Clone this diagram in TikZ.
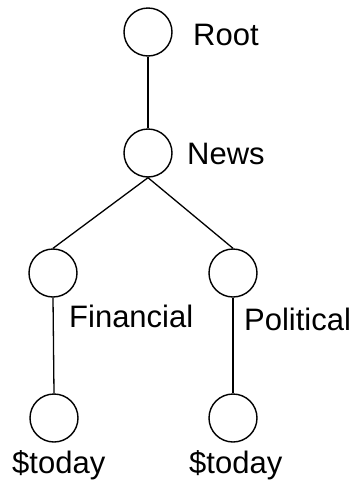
\documentclass[tikz,border=0pt]{standalone}
\usepackage{fontspec}
\setmainfont{Liberation Sans}
\begin{document}
\begin{tikzpicture}[x=1pt,y=-1pt,
  vertex/.style={draw,circle,line width=1.4pt,minimum size=48pt,inner sep=0pt},
  lbl/.style={anchor=base west,inner sep=0pt,font=\fontsize{31}{31}\selectfont},
  edge/.style={line width=1.3pt}]
\useasboundingbox (0,0) rectangle (352,485);
\node[vertex] (root) at (148,32) {};
\node[vertex] (news) at (148,153) {};
\node[vertex] (fin) at (53,273) {};
\node[vertex] (pol) at (233,273) {};
\node[vertex] (fint) at (54,418) {};
\node[vertex] (polt) at (233,418) {};
\node[lbl] (lroot) at (193,45) {Root};
\node[lbl] (lnews) at (187,164) {News};
\node[lbl] (lfin) at (69,327) {Financial};
\node[lbl] (lpol) at (244,330) {Political};
\node[lbl] (lfint) at (12,473) {\$today};
\node[lbl] (lpolt) at (189,473) {\$today};
\draw[edge] (root.south) -- (news.north);
\draw[edge] (news.south) -- (fin.north);
\draw[edge] (news.south) -- (pol.north);
\draw[edge] (fin.south) -- (fint.north);
\draw[edge] (pol.south) -- (polt.north);
\end{tikzpicture}
\end{document}
